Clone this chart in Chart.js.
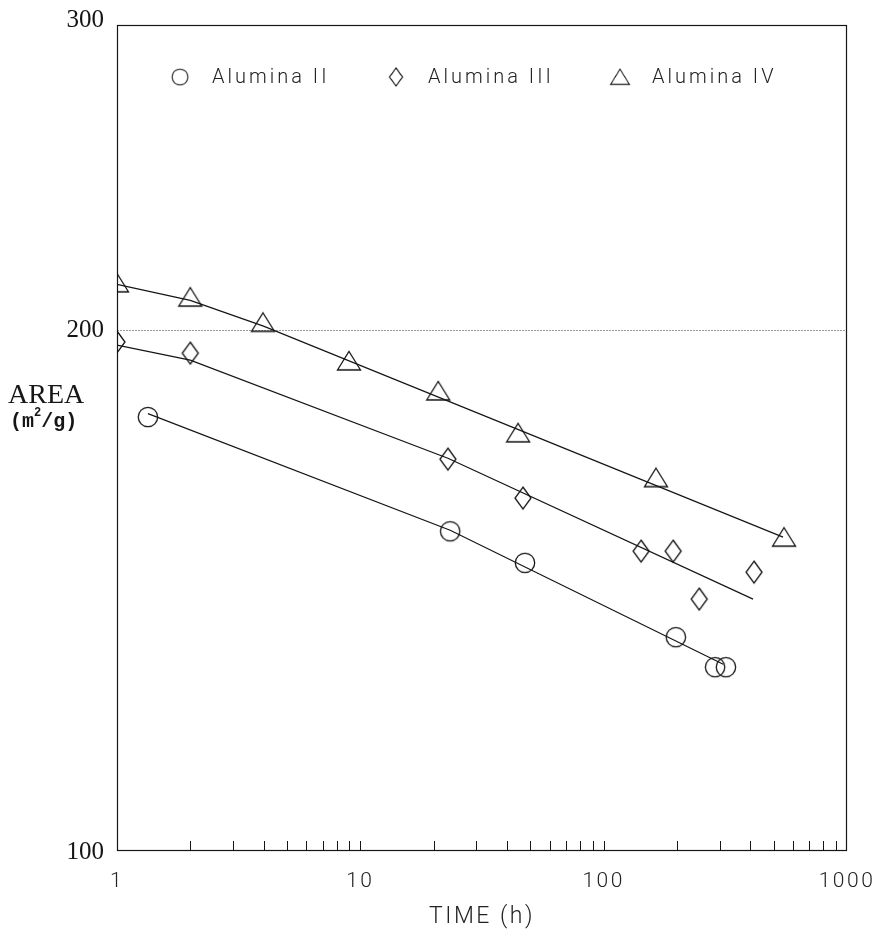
<!DOCTYPE html>
<html>
<head>
<meta charset="utf-8">
<script src="https://cdn.jsdelivr.net/npm/chart.js@4.4.1/dist/chart.umd.min.js"></script>
<style>
  html, body { margin: 0; padding: 0; background: #fff; }
  #wrap { width: 879px; height: 938px; position: relative; }
</style>
</head>
<body>
<div id="wrap"><canvas id="chart"></canvas></div>
<script>
// Surface area of the aluminas versus ageing time
const seriesNames = ['Alumina II', 'Alumina III', 'Alumina IV'];

const timeII  = [1.34, 23.4, 47.5, 198, 287, 318];
const areaII  = [178.1, 153.0, 146.7, 132.9, 127.7, 127.7];

const timeIII = [1, 2.0, 22.9, 46.6, 142.5, 193, 247, 415];
const areaIII = [196.8, 193.9, 168.4, 159.9, 149.0, 149.0, 139.8, 144.9];

const timeIV  = [1, 2.0, 3.98, 8.98, 20.9, 44.5, 164, 551];
const areaIV  = [212.9, 208.9, 202.0, 191.9, 184.4, 174.4, 164.3, 151.8];

// smoothed trend curves drawn through each series
const fitTimeII  = [1.34, 23.4, 310];
const fitAreaII  = [178.9, 153.2, 128.2];
const fitTimeIII = [1, 2.0, 22.9, 411];
const fitAreaIII = [196.0, 192.1, 168.6, 139.8];
const fitTimeIV  = [1, 2.0, 4.0, 44.9, 546];
const fitAreaIV  = [212.5, 208.0, 201.0, 175.1, 151.8];

// axis ticks
const xTickLabels = [1, 10, 100, 1000];
const xTickMarks  = [2, 3, 4, 5, 6, 7, 8, 9, 10, 20, 30, 40, 50, 60, 70, 80, 90, 100,
                     200, 300, 400, 500, 600, 700, 800, 900];
const yTickLabels = [100, 200, 300];
const yGridValues = [200];

const INK = '#151515';

function pairs(xs, ys) { return xs.map((x, i) => ({ x: x, y: ys[i] })); }

// hollow marker glyphs
function makeMarker(kind) {
  const c = document.createElement('canvas');
  let w, h;
  if (kind === 'circle') { w = 24; h = 24; }
  else if (kind === 'diamond') { w = 20; h = 26; }
  else { w = 28; h = 24; }
  c.width = w; c.height = h;
  const g = c.getContext('2d');
  g.strokeStyle = INK;
  g.lineWidth = 1.3;
  g.beginPath();
  if (kind === 'circle') {
    g.arc(w / 2, h / 2, 9.7, 0, Math.PI * 2);
  } else if (kind === 'diamond') {
    g.moveTo(w / 2, 2); g.lineTo(w / 2 + 8, h / 2);
    g.lineTo(w / 2, h - 2); g.lineTo(w / 2 - 8, h / 2);
    g.closePath();
  } else {
    g.moveTo(w / 2, 2.5); g.lineTo(w / 2 + 11.5, h - 3);
    g.lineTo(w / 2 - 11.5, h - 3); g.closePath();
  }
  g.stroke();
  return c;
}
const markers = [makeMarker('circle'), makeMarker('diamond'), makeMarker('triangle')];

function pointSet(label, xs, ys, marker) {
  return {
    label: label, data: pairs(xs, ys), showLine: false,
    pointStyle: marker, pointRadius: 10, pointHoverRadius: 10,
    borderColor: INK, backgroundColor: 'transparent', order: 1
  };
}
function curveSet(label, xs, ys) {
  return {
    label: label, data: pairs(xs, ys), showLine: true,
    pointRadius: 0, pointHoverRadius: 0, borderColor: INK,
    borderWidth: 1.2, fill: false, tension: 0, order: 2
  };
}

const datasets = [
  pointSet(seriesNames[0], timeII, areaII, markers[0]),
  pointSet(seriesNames[1], timeIII, areaIII, markers[1]),
  pointSet(seriesNames[2], timeIV, areaIV, markers[2]),
  curveSet('fit ' + seriesNames[0], fitTimeII, fitAreaII),
  curveSet('fit ' + seriesNames[1], fitTimeIII, fitAreaIII),
  curveSet('fit ' + seriesNames[2], fitTimeIV, fitAreaIV)
];

const SANS = 'Roboto, "Liberation Sans", Arial, sans-serif';
const SERIF = '"Liberation Serif", "Times New Roman", serif';
const MONO = '"Liberation Mono", "DejaVu Sans Mono", monospace';

// frame, tick marks, reference line, y labels, axis caption and legend
const decorations = {
  id: 'decorations',
  beforeDraw(chart) {
    chart.ctx.letterSpacing = '2.5px';
  },
  beforeDatasetsDraw(chart) {
    const { ctx, chartArea: a, scales: { x, y } } = chart;
    ctx.save();
    ctx.letterSpacing = '0px';
    // dotted reference line
    ctx.strokeStyle = '#9a9a9a';
    ctx.lineWidth = 1;
    ctx.setLineDash([2, 1]);
    yGridValues.forEach(v => {
      const py = Math.round(y.getPixelForValue(v)) + 0.5;
      ctx.beginPath(); ctx.moveTo(a.left, py); ctx.lineTo(a.right, py); ctx.stroke();
    });
    ctx.setLineDash([]);
    // frame
    ctx.strokeStyle = INK;
    ctx.lineWidth = 1.2;
    ctx.strokeRect(a.left + 0.5, a.top + 0.5, a.right - a.left - 1, a.bottom - a.top - 1);
    // inward tick marks on the time axis
    ctx.lineWidth = 1;
    xTickMarks.forEach(v => {
      const px = Math.round(x.getPixelForValue(v)) + 0.5;
      ctx.beginPath(); ctx.moveTo(px, a.bottom); ctx.lineTo(px, a.bottom - 10); ctx.stroke();
    });
    // area tick labels
    ctx.fillStyle = INK;
    ctx.font = '25px ' + SERIF;
    ctx.textAlign = 'right';
    ctx.textBaseline = 'middle';
    yTickLabels.forEach(v => {
      let py = y.getPixelForValue(v);
      if (py <= a.top + 1) py -= 6;
      ctx.fillText(String(v), a.left - 13, py + 1);
    });
    // axis caption
    ctx.textAlign = 'left';
    ctx.font = '28px ' + SERIF;
    ctx.fillText('AREA', 8, 396);
    ctx.font = 'bold 20px ' + MONO;
    let cx = 10;
    const cy = 422;
    ctx.fillText('(m', cx, cy); cx += ctx.measureText('(m').width;
    ctx.font = 'bold 12px ' + MONO;
    ctx.fillText('2', cx, cy - 9); cx += ctx.measureText('2').width;
    ctx.font = 'bold 20px ' + MONO;
    ctx.fillText('/g)', cx, cy);
    // legend
    const legendX = [180, 396, 620];
    const legendY = 77;
    ctx.font = '300 20px ' + SANS;
    ctx.letterSpacing = '3px';
    ctx.fillStyle = '#222';
    seriesNames.forEach((name, i) => {
      const m = markers[i];
      const s = 0.82;
      ctx.drawImage(m, legendX[i] - m.width * s / 2, legendY - m.height * s / 2, m.width * s, m.height * s);
      ctx.fillText(name, legendX[i] + 32, legendY + 1);
    });
    ctx.restore();
  }
};

new Chart(document.getElementById('chart'), {
  type: 'scatter',
  data: { datasets: datasets },
  options: {
    responsive: true,
    maintainAspectRatio: false,
    animation: false,
    events: [],
    layout: { padding: { top: 25, right: 32, left: 0, bottom: 0 } },
    plugins: { legend: { display: false }, tooltip: { enabled: false } },
    scales: {
      x: {
        type: 'logarithmic', min: 1, max: 1000,
        afterBuildTicks: s => { s.ticks = xTickLabels.map(v => ({ value: v, major: true })); },
        afterFit: s => { s.height = 87; s.paddingRight = 0; s.paddingLeft = 0; },
        grid: { display: false, drawTicks: false },
        border: { display: false },
        ticks: {
          autoSkip: false, maxRotation: 0, padding: 18, color: '#222',
          font: { family: SANS, size: 21, weight: '300' },
          callback: v => String(v)
        },
        title: {
          display: true, text: 'TIME (h)', color: '#222',
          font: { family: SANS, size: 23, weight: '300' },
          padding: { top: 0, bottom: 7 }
        }
      },
      y: {
        type: 'logarithmic', min: 100, max: 300,
        afterBuildTicks: s => { s.ticks = yTickLabels.map(v => ({ value: v })); },
        afterFit: s => { s.width = 117; s.paddingTop = 0; s.paddingBottom = 0; },
        grid: { display: false, drawTicks: false },
        border: { display: false },
        ticks: { display: false }
      }
    }
  },
  plugins: [decorations]
});
</script>
</body>
</html>
